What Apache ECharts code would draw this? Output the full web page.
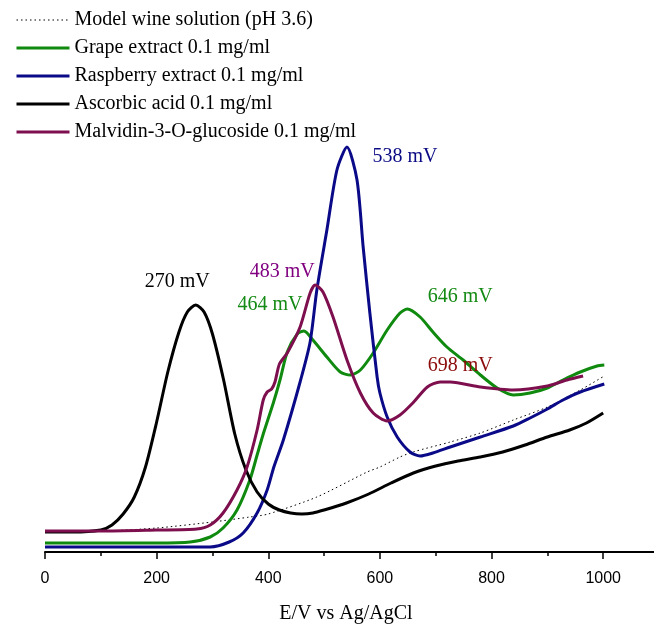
<!DOCTYPE html>
<html>
<head>
<meta charset="utf-8">
<script src="https://cdn.jsdelivr.net/npm/echarts@6/dist/echarts.min.js"></script>
<style>html,body{margin:0;padding:0;background:#fff}#c{width:654px;height:625px}</style>
</head>
<body>
<div id="c"></div>
<script>
// Potential (mV) vs current (arbitrary units, baseline = 0)
var modelWine = [[0,21],[100,21],[200,24],[300,30],[367,35],[400,38],[487,55],[577,80],[600,85],[636,95],[659,100],[726,110],[780,119],[839,132],[900,145],[959,162],[1002,176]];
var grape = [[0,9],[100,9],[200,9],[260,10],[296,15],[319,24],[344,42],[367,72],[380,97],[391,118],[409,149],[421,172],[434,200],[452,218],[464,221],[480,212],[505,195],[529,180],[547,177],[565,182],[588,199],[613,222],[636,239],[649,243],[672,235],[695,220],[720,205],[749,192],[780,177],[810,164],[839,157],[869,159],[900,164],[928,172],[959,180],[989,186],[1002,187]];
var raspberry = [[0,5],[100,5],[200,5],[296,5],[330,10],[355,19],[380,39],[398,62],[410,85],[427,112],[457,170],[475,210],[487,262],[505,322],[523,382],[541,405],[559,372],[570,305],[582,239],[595,175],[600,159],[613,135],[631,115],[654,100],[672,96],[695,99],[726,105],[780,115],[839,126],[869,134],[900,143],[928,152],[959,160],[1002,168]];
var ascorbic = [[0,20],[50,20],[100,22],[120,27],[140,38],[160,55],[180,85],[200,130],[220,180],[240,220],[255,240],[270,247],[285,240],[300,218],[320,172],[340,118],[360,82],[380,60],[400,48],[420,42],[440,39],[460,38],[480,39],[500,42],[540,49],[580,58],[620,69],[660,79],[700,86],[740,91],[780,95],[820,100],[860,107],[900,115],[940,122],[970,129],[1000,139]];
var malvidin = [[0,21],[100,21],[200,22],[272,23],[296,27],[319,39],[344,62],[362,85],[380,122],[391,152],[398,160],[406,163],[412,170],[420,188],[434,199],[457,225],[475,259],[484,267],[498,260],[516,235],[541,192],[565,159],[588,139],[613,131],[636,137],[659,149],[685,165],[708,170],[726,170],[780,165],[839,162],[900,166],[935,172],[964,176]];

var seriesNames = ['Model wine solution (pH 3.6)','Grape extract 0.1 mg/ml','Raspberry extract 0.1 mg/ml','Ascorbic acid 0.1 mg/ml','Malvidin-3-O-glucoside 0.1 mg/ml'];

// peak labels: [text, x, y, color]
var peakLabels = [
  ['270 mV', 237, 270, '#000000'],
  ['483 mV', 425, 280, '#800080'],
  ['464 mV', 403, 247, '#138a13'],
  ['538 mV', 645, 395, '#0a0a85'],
  ['646 mV', 744, 255, '#138a13'],
  ['698 mV', 744, 186, '#8b0a0a']
];

var colors = ['#000000', '#0f8a0f', '#0a0a88', '#000000', '#7e0f4e'];
var widths = [1, 3, 3, 3, 3];
var types = [[1.5,3], 'solid', 'solid', 'solid', 'solid'];

var serif = '"Liberation Serif","Times New Roman",serif';
var chart = echarts.init(document.getElementById('c'));

var dataSets = [modelWine, grape, raspberry, ascorbic, malvidin];
var series = dataSets.map(function(d, i){
  return {
    name: seriesNames[i], type: 'line', data: d, smooth: 0.25, symbol: 'none',
    lineStyle: {color: colors[i], width: widths[i], type: types[i]},
    itemStyle: {color: colors[i]}, z: 2 + i, silent: true, animation: false
  };
});
series.push({
  type: 'scatter', symbolSize: 0, silent: true, z: 10, animation: false,
  itemStyle: {opacity: 1},
  data: peakLabels.map(function(p){
    return {value: [p[1], p[2]], label: {show: true, position: 'inside', formatter: p[0], color: p[3], fontFamily: serif, fontSize: 20}};
  })
});

chart.setOption({
  animation: false,
  grid: {left: 45, right: -5, top: 0, bottom: 73, outerBoundsMode: 'none', containLabel: false},
  legend: {
    orient: 'vertical', left: 10, top: 5, itemWidth: 53, itemHeight: 20, itemGap: 8,
    data: seriesNames.map(function(n, i){
      return {name: n, lineStyle: {width: widths[i], color: colors[i], type: types[i]}};
    }),
    itemStyle: {color: 'rgba(0,0,0,0)', borderWidth: 0, opacity: 0},
    textStyle: {fontFamily: serif, fontSize: 20, color: '#000'},
    selectedMode: false
  },
  xAxis: {
    type: 'value', min: 0, max: 1100, interval: 200,
    name: 'E/V vs Ag/AgCl', nameLocation: 'middle', nameGap: 52,
    nameTextStyle: {fontFamily: serif, fontSize: 20, color: '#000', padding: [0, 12, 0, 0]},
    axisLine: {show: true, lineStyle: {color: '#000', width: 2}},
    axisTick: {show: true, inside: false, length: 7, lineStyle: {color: '#000', width: 1.5}},
    minorTick: {show: true, splitNumber: 2, length: 4, lineStyle: {color: '#000', width: 1.5}},
    axisLabel: {fontFamily: '"Liberation Sans",Arial,sans-serif', fontSize: 16, color: '#000', margin: 19, showMaxLabel: false,
      formatter: function(v){ return String(v); }},
    splitLine: {show: false}
  },
  yAxis: {type: 'value', min: 0, max: 552, show: false},
  series: series
});
</script>
</body>
</html>
